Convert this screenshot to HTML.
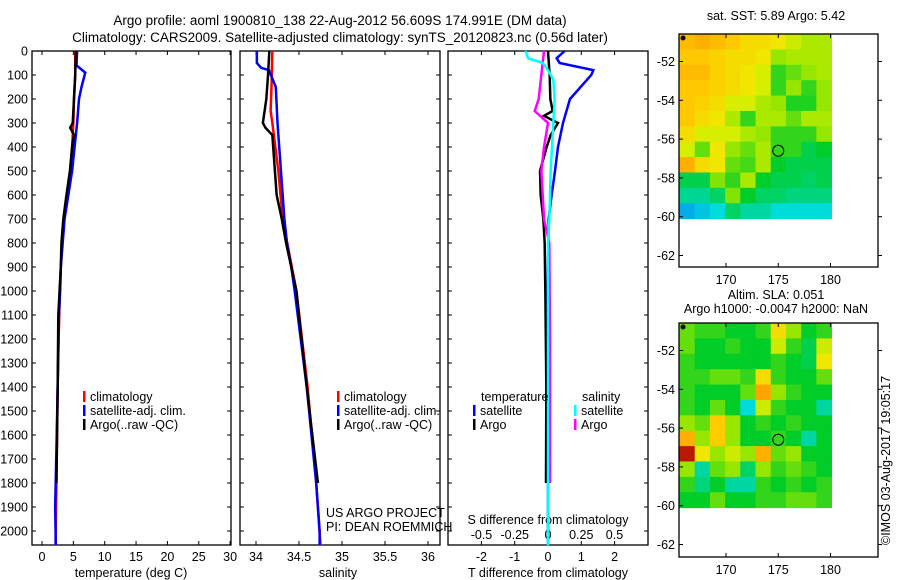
<!DOCTYPE html>
<html><head><meta charset="utf-8">
<style>
body{margin:0;background:#fff;overflow:hidden;}
svg{display:block;font-family:"Liberation Sans",sans-serif;}
text{fill:#000;}
</style></head>
<body>
<svg id="fig" width="900" height="580" viewBox="0 0 900 580">
<text x="340" y="25" font-size="13.5" text-anchor="middle">Argo profile: aoml 1900810_138 22-Aug-2012 56.609S 174.991E (DM data)</text>
<text x="340" y="42" font-size="13.5" text-anchor="middle">Climatology: CARS2009. Satellite-adjusted climatology: synTS_20120823.nc (0.56d later)</text>
<g id="plots"></g>
</svg>
<script>
// ---------- data ----------
const depthTicks=[0,100,200,300,400,500,600,700,800,900,1000,1100,1200,1300,1400,1500,1600,1700,1800,1900,2000];
const tTicks=[0,5,10,15,20,25,30];
const sTicks=[34,34.5,35,35.5,36];
const dTTicks=[-2,-1,0,1,2];
const dSTickLabels=["-0.5","-0.25","0","0.25","0.5"];
const dSTicks=[-0.5,-0.25,0,0.25,0.5];

const tClimDepth=[0,100,200,300,400,500,600,700,800,900,1000,1200,1400,1600,1800,2000,2060];
const tClim=[5.3,5.3,5.1,5.0,4.8,4.5,4.0,3.5,3.2,3.0,2.85,2.65,2.5,2.4,2.3,2.2,2.15];
const tSatDepth=[0,60,90,100,150,200,300,400,500,600,700,800,900,1000,1100,1400,1600,1900,2060];
const tSat=[5.6,5.5,6.9,6.8,6.3,5.9,5.6,5.2,4.8,4.2,3.6,3.3,3.0,2.9,2.7,2.5,2.35,2.1,2.2];
const tArgoDepth=[0,100,200,300,320,350,400,500,600,700,800,900,1000,1100,1400,1600,1800];
const tArgo=[5.4,5.3,5.1,4.9,4.5,5.1,4.8,4.45,3.9,3.4,3.1,3.0,2.8,2.6,2.5,2.4,2.3];

const sClimDepth=[0,150,250,300,500,700,1000,1400,1800,2060];
const sClim=[34.19,34.18,34.17,34.19,34.26,34.31,34.47,34.6,34.7,34.75];
const sSatDepth=[0,50,70,80,150,300,450,600,700,800,900,1000,1400,1800,2000,2060];
const sSat=[34.01,34.01,34.06,34.15,34.23,34.25,34.28,34.31,34.33,34.36,34.41,34.45,34.59,34.7,34.74,34.74];
const sArgoDepth=[0,100,200,300,320,350,500,600,700,800,900,1000,1400,1800];
const sArgo=[34.155,34.14,34.12,34.08,34.11,34.19,34.22,34.24,34.3,34.35,34.41,34.47,34.59,34.72];

const dTSatDepth=[0,30,50,80,100,200,300,400,500,600,700,900,1200,1500,1800,2060];
const dTSat=[0.5,0.26,0.35,1.36,1.3,0.66,0.45,0.3,0.21,0.11,0.02,0,-0.02,-0.03,0,0];
const dTArgoDepth=[0,100,200,250,270,300,350,400,500,600,700,800,1000,1400,1800];
const dTArgo=[0,0.05,0.07,0.14,-0.12,0.3,0.08,-0.04,-0.24,-0.22,-0.14,-0.1,-0.08,-0.05,-0.06];
const dSArgoDepth=[0,100,200,250,280,300,400,500,600,700,800,1200,1800];
const dSArgo=[-0.03,-0.05,-0.07,-0.1,-0.04,0,-0.03,-0.05,-0.04,-0.03,0.01,0.015,0.015];
const dSSatDepth=[0,30,50,80,120,200,300,400,500,700,800,1200,1600,2060];
const dSSat=[-0.17,-0.15,-0.04,0,0.04,0.05,0.04,0.03,0.02,0.01,0,0,0,0];

const mapLonTicks=[170,175,180];
const mapLatTicks=[-52,-54,-56,-58,-60,-62];
const sstGrid=[
[.78,.8,.78,.76,.72,.72,.7,.65,.62,.62],
[.76,.76,.74,.72,.72,.7,.6,.62,.62,.62],
[.78,.78,.74,.72,.7,.66,.5,.55,.6,.62],
[.76,.76,.74,.72,.7,.66,.5,.6,.5,.6],
[.76,.74,.72,.66,.66,.62,.6,.48,.48,.6],
[.76,.72,.7,.62,.5,.62,.62,.55,.62,.62],
[.72,.66,.66,.66,.62,.6,.5,.5,.5,.6],
[.66,.55,.7,.6,.55,.62,.5,.5,.42,.45],
[.8,.72,.7,.55,.52,.62,.45,.42,.42,.42],
[.42,.42,.58,.5,.62,.45,.42,.42,.4,.42],
[.36,.36,.4,.58,.45,.4,.4,.38,.38,.38],
[.2,.25,.3,.4,.35,.35,.3,.3,.3,.3]];
const slaGrid=[
[.55,.5,.5,.45,.45,.5,.72,.6,.45,.5],
[.55,.45,.45,.5,.45,.45,.65,.5,.42,.65],
[.5,.45,.45,.45,.45,.45,.5,.45,.42,.7],
[.5,.5,.55,.55,.5,.72,.5,.45,.45,.55],
[.5,.45,.45,.45,.55,.82,.6,.5,.45,.45],
[.5,.45,.55,.45,.3,.65,.5,.45,.45,.35],
[.6,.55,.75,.6,.45,.5,.45,.5,.45,.45],
[.8,.6,.75,.6,.45,.45,.5,.45,.35,.45],
[.95,.7,.6,.65,.6,.8,.55,.6,.45,.45],
[.6,.35,.55,.6,.4,.6,.5,.55,.5,.45],
[.5,.38,.45,.35,.35,.5,.45,.5,.45,.5],
[.45,.45,.55,.45,.45,.5,.5,.55,.55,.5]];
const argoLon=[175.0];
const argoLat=[-56.6];

// ---------- helpers ----------
const NS="http://www.w3.org/2000/svg";
const root=document.getElementById('plots');
function mk(tag,attrs,parent){const e=document.createElementNS(NS,tag);for(const k in attrs)e.setAttribute(k,attrs[k]);(parent||root).appendChild(e);return e;}
function txt(x,y,s,anchor,size,parent){const t=mk('text',{x:x,y:y,'font-size':size||12.5,'text-anchor':anchor||'start'},parent);t.textContent=s;return t;}

const top0=51, pxPer100=24;
const yD=d=>top0+d*pxPer100/100;

function panel(name,x0,x1){
  const g=mk('g',{});
  
  
  const r=mk('rect',{x:x0,y:top0,width:x1-x0,height:545-top0,fill:'none',stroke:'#000','stroke-width':1.3},g);
  
  
  depthTicks.forEach(d=>{
    mk('line',{x1:x0,x2:x0+4,y1:yD(d),y2:yD(d),stroke:'#000'},g);
    mk('line',{x1:x1,x2:x1-4,y1:yD(d),y2:yD(d),stroke:'#000'},g);
  });
  return g;
}
function profile(g,name,depths,vals,xfn,color,w){
  const p=mk('polyline',{points:depths.map((d,i)=>xfn(vals[i])+','+yD(d)).join(' '),fill:'none',stroke:color,'stroke-width':w||2.5,'stroke-linejoin':'miter'},g);
  
  
}
function legendEntry(g,x,y,color,label){
  const e=mk('g',{},g);
  
  
  mk('rect',{x:x,y:y-10,width:2.5,height:11,fill:color},e);
  txt(x+7,y,label,'start',12.5,e);
}

// ---------- panel 1: temperature ----------
const xT=v=>42+v*6.27;
const g1=panel('temperature-panel',32,231);
depthTicks.forEach(d=>{const t=txt(28,yD(d)+4.5,String(d),'end',12.5,g1);});
tTicks.forEach(v=>{mk('line',{x1:xT(v),x2:xT(v),y1:545,y2:541,stroke:'#000'},g1);mk('line',{x1:xT(v),x2:xT(v),y1:top0,y2:top0+4,stroke:'#000'},g1);txt(xT(v),561,String(v),'middle',12.5,g1);});
const xl1=txt(131,577,'temperature (deg C)','middle',12.5,g1);


profile(g1,'temperature-climatology-line',tClimDepth,tClim,xT,'#f00');
profile(g1,'temperature-satellite-line',tSatDepth,tSat,xT,'#00f');
profile(g1,'temperature-argo-line',tArgoDepth,tArgo,xT,'#000');
legendEntry(g1,83,401,'#f00','climatology');
legendEntry(g1,83,415,'#00f','satellite-adj. clim.');
legendEntry(g1,83,429,'#000','Argo(..raw -QC)');

// ---------- panel 2: salinity ----------
const xS=v=>256+(v-34)*86;
const g2=panel('salinity-panel',240,440);
sTicks.forEach(v=>{mk('line',{x1:xS(v),x2:xS(v),y1:545,y2:541,stroke:'#000'},g2);mk('line',{x1:xS(v),x2:xS(v),y1:top0,y2:top0+4,stroke:'#000'},g2);txt(xS(v),561,String(v),'middle',12.5,g2);});
const xl2=txt(338,577,'salinity','middle',12.5,g2);


profile(g2,'salinity-climatology-line',sClimDepth,sClim,xS,'#f00');
profile(g2,'salinity-satellite-line',sSatDepth,sSat,xS,'#00f');
profile(g2,'salinity-argo-line',sArgoDepth,sArgo,xS,'#000');
legendEntry(g2,337,401,'#f00','climatology');
legendEntry(g2,337,415,'#00f','satellite-adj. clim.');
legendEntry(g2,337,429,'#000','Argo(..raw -QC)');
const pr=txt(326,517,'US ARGO PROJECT','start',12.5,g2);


txt(326,531,'PI: DEAN ROEMMICH','start',12.5,g2);

// ---------- panel 3: differences ----------
const xDT=v=>548+v*33.3;
const xDS=v=>548+v*133;
const g3=panel('difference-panel',448,648);
dTTicks.forEach(v=>{mk('line',{x1:xDT(v),x2:xDT(v),y1:545,y2:541,stroke:'#000'},g3);mk('line',{x1:xDT(v),x2:xDT(v),y1:top0,y2:top0+4,stroke:'#000'},g3);txt(xDT(v),561,String(v),'middle',12.5,g3);});
dSTicks.forEach((v,i)=>{txt(xDS(v),539,dSTickLabels[i],'middle',12.5,g3);});
txt(548,524,'S difference from climatology','middle',12.5,g3);
const xl3=txt(548,577,'T difference from climatology','middle',12.5,g3);


profile(g3,'t-diff-satellite-line',dTSatDepth,dTSat,xDT,'#00f');
profile(g3,'t-diff-argo-line',dTArgoDepth,dTArgo,xDT,'#000');
profile(g3,'s-diff-argo-line',dSArgoDepth,dSArgo,xDS,'#f0f');
profile(g3,'s-diff-satellite-line',dSSatDepth,dSSat,xDS,'#0ff');
txt(481,401,'temperature','start',12.5,g3);
txt(582,401,'salinity','start',12.5,g3);
legendEntry(g3,473,415,'#00f','satellite');
legendEntry(g3,473,429,'#000','Argo');
legendEntry(g3,574,415,'#0ff','satellite');
legendEntry(g3,574,429,'#f0f','Argo');

// ---------- maps ----------
function cmap(v){
  const stops=[[0,[0,80,255]],[0.3,[0,220,220]],[0.45,[0,205,40]],[0.6,[150,230,0]],[0.68,[235,240,0]],[0.76,[255,200,0]],[0.84,[255,150,0]],[0.92,[220,40,0]],[1,[130,0,0]]];
  for(let i=1;i<stops.length;i++){if(v<=stops[i][0]){const a=stops[i-1],b=stops[i],f=(v-a[0])/(b[0]-a[0]);return 'rgb('+a[1].map((c,j)=>Math.round(c+(b[1][j]-c)*f)).join(',')+')';}}
  return 'rgb(130,0,0)';
}
function map(name,top,bottom,grid,titles){
  const left=679,right=878;
  const lonX=l=>726+(l-170)*10.45;
  const lat52=top+27.5;
  const latY=la=>lat52+(-52-la)*19.4;
  const g=mk('g',{});
  
  
  const lon0=165.55,lon1=180.1,lat0=-52+27.5/19.4,lat1=-60.1;
  const rows=grid.length,cols=grid[0].length;
  const cw=(lonX(lon1)-lonX(lon0))/cols, ch=(latY(lat1)-latY(lat0))/rows;
  grid.forEach((row,r)=>row.forEach((v,c)=>{
    const cell=mk('rect',{x:lonX(lon0)+c*cw,y:latY(lat0)+r*ch,width:cw+0.5,height:ch+0.5,fill:cmap(v)},g);
    
    
  }));
  mk('rect',{x:left,y:top,width:right-left,height:bottom-top,fill:'none',stroke:'#000','stroke-width':1.3},g);
  mapLonTicks.forEach(l=>{mk('line',{x1:lonX(l),x2:lonX(l),y1:top,y2:top+4,stroke:'#000'},g);mk('line',{x1:lonX(l),x2:lonX(l),y1:bottom,y2:bottom-4,stroke:'#000'},g);txt(lonX(l),bottom+17,String(l),'middle',12.5,g);});
  mapLatTicks.forEach(la=>{mk('line',{x1:left,x2:left+4,y1:latY(la),y2:latY(la),stroke:'#000'},g);mk('line',{x1:right,x2:right+4,y1:latY(la),y2:latY(la),stroke:'#000'},g);txt(left-4,latY(la)+4.5,String(la),'end',12.5,g);});
  argoLon.forEach((l,i)=>{const c=mk('circle',{cx:lonX(l),cy:latY(argoLat[i]),r:5.5,fill:'none',stroke:'#000','stroke-width':1},g);});
  mk('circle',{cx:left+4,cy:top+4,r:2.5,fill:'#000'},g);
  const n=titles.length;
  titles.forEach((t,i)=>{const e=txt(776,n>1?top-14*(n-i)+4:top-14,t,'middle',12.5,g);});
}
map('sst-map',34,267,sstGrid,['sat. SST: 5.89  Argo: 5.42']);
map('sla-map',323,557,slaGrid,['Altim. SLA: 0.051','Argo h1000: -0.0047 h2000: NaN']);
const cp=txt(0,0,'©IMOS 03-Aug-2017 19:05:17','start',12.5);
cp.setAttribute('transform','translate(890,545) rotate(-90)');


</script>
</body></html>
